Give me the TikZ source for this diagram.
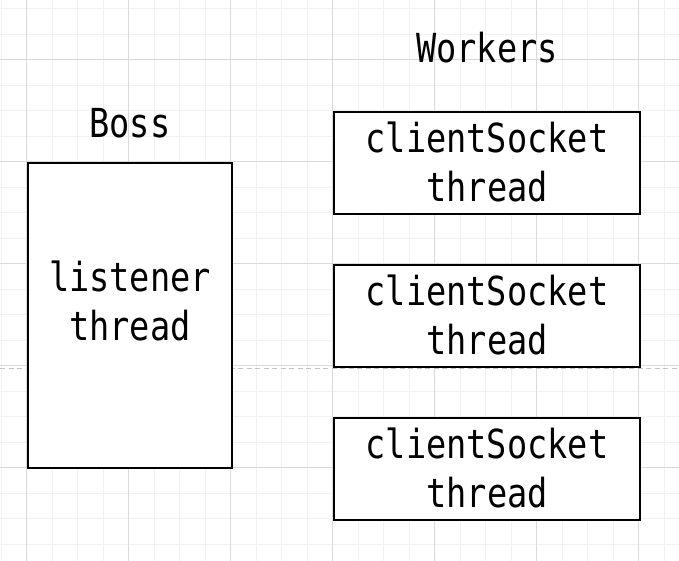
\documentclass[tikz,border=0pt]{standalone}
\usepackage{fontspec}
\newfontfamily\monofam[FakeStretch=0.84]{DejaVu Sans Mono}
\definecolor{gridmajor}{HTML}{DADADA}
\definecolor{gridminor}{HTML}{F1F1F1}
\definecolor{pagebreak}{HTML}{C4C4C4}
\tikzset{
  minorline/.style={draw=gridminor, line width=0.8pt},
  majorline/.style={draw=gridmajor, line width=0.8pt},
  boxnode/.style={draw=black, line width=2pt, fill=white, inner sep=0pt},
  txt/.style={font=\monofam\fontsize{40}{49}\selectfont, align=center, inner sep=0pt, text=black},
}
\begin{document}
\begin{tikzpicture}[x=1pt,y=-1pt]
\useasboundingbox (0,0) rectangle (679,561);
\fill[white] (0,0) rectangle (679,561);
% minor grid
\foreach \i in {0,...,26} {
  \draw[minorline] ({1+25.5*\i},0) -- ({1+25.5*\i},561);
}
\foreach \j in {0,...,21} {
  \draw[minorline] (0,{8.5+25.5*\j}) -- (679,{8.5+25.5*\j});
}
% major grid
\foreach \i in {0,...,6} {
  \draw[majorline] ({26.5+102*\i},0) -- ({26.5+102*\i},561);
}
\foreach \j in {0,...,4} {
  \draw[majorline] (0,{59.5+102*\j}) -- (679,{59.5+102*\j});
}
% page break line
\draw[pagebreak, line width=0.9pt, dash pattern=on 5pt off 3.5pt] (0,368) -- (679,368);
% boss
\node[boxnode, minimum width=204pt, minimum height=305pt] (boss) at (130,315.5) {};
\node[txt] (bosslbl) at (130,300.5) {listener\\thread};
\node[txt, anchor=base] (bosstitle) at (130,138) {Boss};
% workers
\node[txt, anchor=base] (workerstitle) at (487,62.7) {Workers};
\node[boxnode, minimum width=306pt, minimum height=102pt] (w1) at (487,163) {};
\node[boxnode, minimum width=306pt, minimum height=102pt] (w2) at (487,316) {};
\node[boxnode, minimum width=306pt, minimum height=102pt] (w3) at (487,469) {};
\node[txt] (w1lbl) at (487,161.5) {clientSocket\\thread};
\node[txt] (w2lbl) at (487,314.5) {clientSocket\\thread};
\node[txt] (w3lbl) at (487,467.5) {clientSocket\\thread};
\end{tikzpicture}
\end{document}
